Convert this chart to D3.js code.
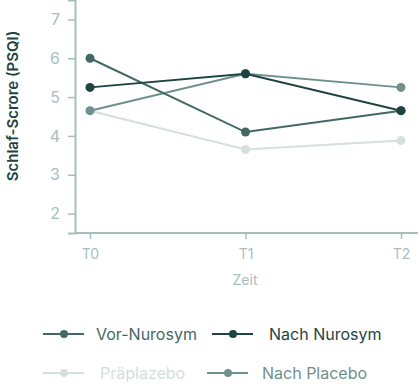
<!DOCTYPE html>
<html>
<head>
<meta charset="utf-8">
<script src="https://cdn.jsdelivr.net/npm/d3@7"></script>
<style>
  body { margin: 0; background: #fff; }
  svg { display: block; font-family: Inter, "Open Sans", sans-serif; }
</style>
</head>
<body>
<script>
var timepoints = ["T0", "T1", "T2"];
var seriesNames = ["Vor-Nurosym", "Nach Nurosym", "Präplazebo", "Nach Placebo"];
var vorNurosym = [6.0, 4.1, 4.65];
var nachNurosym = [5.25, 5.6, 4.65];
var praeplazebo = [4.65, 3.65, 3.88];
var nachPlacebo = [4.65, 5.6, 5.25];
var yTicks = [2, 3, 4, 5, 6, 7];
var colors = ["#436866", "#1e4442", "#d5e0de", "#6f908d"];

var width = 418,
    height = 385;

var axisColor = "#a5bfbb";

var svg = d3.select("body").append("svg")
    .attr("width", width)
    .attr("height", height);

var x = d3.scalePoint().domain(timepoints).range([90, 401]);
var y = d3.scaleLinear().domain([1.5, 7.5]).range([233, 0]);

var series = [vorNurosym, nachNurosym, praeplazebo, nachPlacebo].map(function(vals, i) {
    return { name: seriesNames[i], color: colors[i], values: vals };
});

// y axis
var yAxis = svg.append("g")
    .attr("transform", "translate(75,0)")
    .call(d3.axisLeft(y).tickValues(yTicks).tickFormat(d3.format("d")).tickSize(7).tickPadding(8));
yAxis.select(".domain").attr("stroke", axisColor).attr("stroke-width", 2);
yAxis.selectAll(".tick line").attr("stroke", axisColor).attr("stroke-width", 1.5);
yAxis.selectAll(".tick text")
    .attr("fill", "#a8c0bc")
    .style("font-size", "16px")
    .style("font-family", "Inter, sans-serif");

// x axis
var xAxis = svg.append("g")
    .attr("transform", "translate(0,233)")
    .call(d3.axisBottom(x).tickSize(6).tickPadding(10));
xAxis.select(".domain").attr("d", "M75,0H418").attr("stroke", axisColor).attr("stroke-width", 2);
xAxis.selectAll(".tick line").attr("stroke", axisColor).attr("stroke-width", 1.5);
xAxis.selectAll(".tick text")
    .attr("fill", "#a8c0bc")
    .style("font-size", "14px")
    .style("font-family", "Inter, sans-serif");

svg.append("text")
    .attr("x", 245)
    .attr("y", 285)
    .attr("text-anchor", "middle")
    .attr("fill", "#a8c0bc")
    .style("font-size", "14px")
    .text("Zeit");

svg.append("text")
    .attr("transform", "translate(18,106) rotate(-90)")
    .attr("text-anchor", "middle")
    .attr("fill", "#1e4442")
    .style("font-size", "15px")
    .style("font-weight", "600")
    .text("Schlaf-Scrore (PSQI)");

var line = d3.line()
    .x(function(d, i) { return x(timepoints[i]); })
    .y(function(d) { return y(d); });

// draw in an order so that darker lines sit on top
var drawOrder = [2, 3, 0, 1];
drawOrder.forEach(function(k) {
    var s = series[k];
    var g = svg.append("g");
    g.append("path")
        .attr("d", line(s.values))
        .attr("fill", "none")
        .attr("stroke", s.color)
        .attr("stroke-width", 2);
    g.selectAll("circle")
        .data(s.values)
        .enter()
        .append("circle")
        .attr("cx", function(d, i) { return x(timepoints[i]); })
        .attr("cy", function(d) { return y(d); })
        .attr("r", 4.5)
        .attr("fill", s.color);
});

// legend
var legendPos = [
    { lx: 43, ly: 334, tx: 96 },
    { lx: 212, ly: 334, tx: 269 },
    { lx: 43, ly: 373, tx: 100 },
    { lx: 207, ly: 373, tx: 262 }
];
series.forEach(function(s, i) {
    var p = legendPos[i];
    var g = svg.append("g");
    g.append("line")
        .attr("x1", p.lx).attr("x2", p.lx + 41)
        .attr("y1", p.ly).attr("y2", p.ly)
        .attr("stroke", s.color).attr("stroke-width", 2);
    g.append("circle")
        .attr("cx", p.lx + 21).attr("cy", p.ly).attr("r", 4)
        .attr("fill", s.color);
    g.append("text")
        .attr("x", p.tx).attr("y", p.ly)
        .attr("dy", "0.35em")
        .attr("fill", s.color)
        .style("font-size", "16px")
        .text(s.name);
});
</script>
</body>
</html>
